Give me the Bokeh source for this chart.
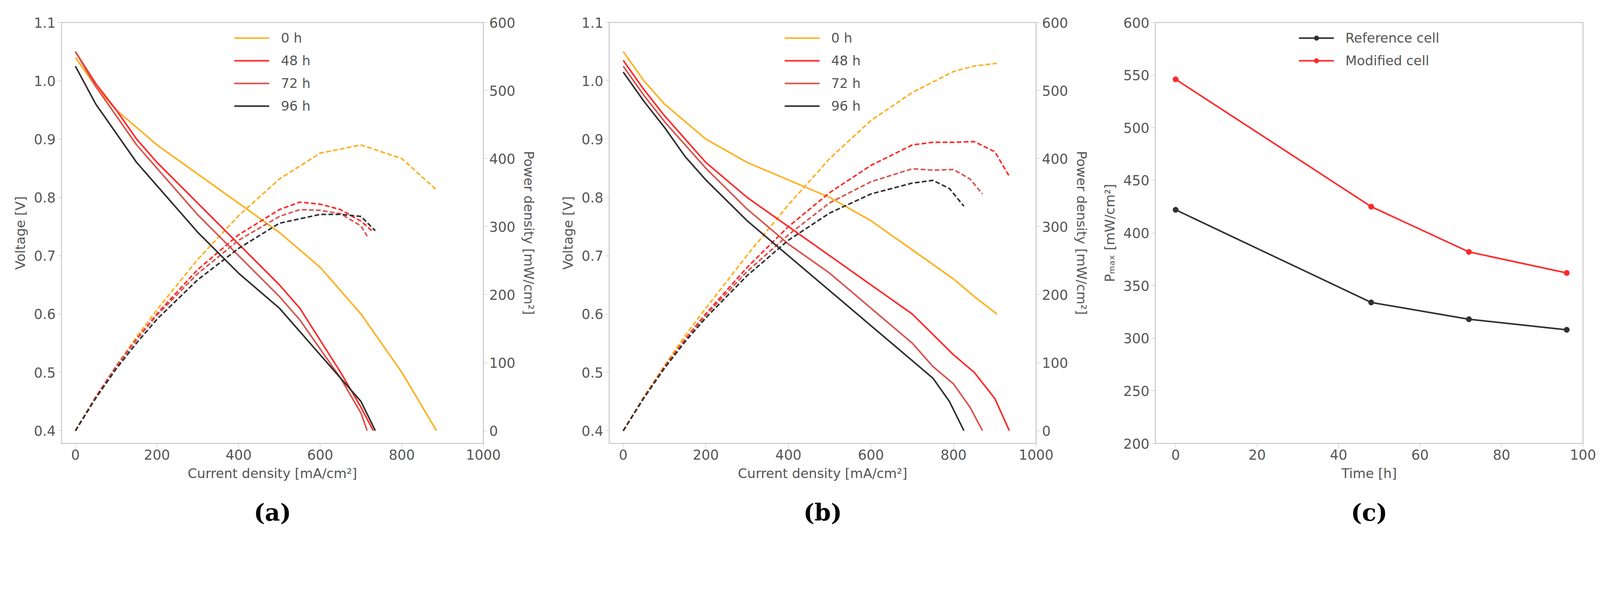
from bokeh.plotting import figure
from bokeh.models import Range1d, LinearAxis, Legend, LegendItem, Title, NumeralTickFormatter
from bokeh.layouts import row
from bokeh.embed import file_html
from bokeh.resources import INLINE

labels = ["0 h", "48 h", "72 h", "96 h"]
colors = ["#FFB020", "#FF2A2A", "#D9534F", "#303030"]

# panel (a): current density [mA/cm2], voltage [V], power density [mW/cm2]
a_I = [[0, 50, 100, 150, 200, 300, 400, 500, 600, 700, 800, 885],
       [0, 50, 100, 150, 200, 300, 400, 500, 550, 600, 650, 700, 730],
       [0, 50, 100, 150, 200, 300, 400, 500, 550, 600, 650, 700, 715],
       [0, 50, 100, 150, 200, 300, 400, 500, 600, 650, 700, 735]]
a_V = [[1.04, 0.99, 0.95, 0.92, 0.89, 0.84, 0.79, 0.74, 0.68, 0.60, 0.50, 0.40],
       [1.05, 0.995, 0.95, 0.90, 0.86, 0.79, 0.72, 0.65, 0.61, 0.555, 0.50, 0.44, 0.40],
       [1.05, 0.99, 0.94, 0.89, 0.85, 0.77, 0.70, 0.63, 0.59, 0.54, 0.49, 0.43, 0.40],
       [1.025, 0.96, 0.91, 0.86, 0.82, 0.74, 0.67, 0.61, 0.53, 0.49, 0.45, 0.40]]
a_P = [[0, 50, 95, 138, 178, 252, 316, 370, 408, 420, 400, 354],
       [0, 50, 95, 135, 172, 237, 288, 325, 336, 333, 325, 308, 292],
       [0, 50, 94, 134, 170, 231, 280, 315, 325, 324, 319, 301, 286],
       [0, 48, 91, 129, 164, 222, 268, 305, 318, 318, 315, 294]]

# panel (b)
b_I = [[0, 50, 100, 150, 200, 300, 400, 500, 600, 700, 800, 850, 905],
       [0, 50, 100, 150, 200, 300, 400, 500, 600, 700, 750, 800, 850, 900, 935],
       [0, 50, 100, 150, 200, 300, 400, 500, 600, 700, 750, 800, 840, 870],
       [0, 50, 100, 150, 200, 300, 400, 500, 600, 700, 750, 790, 825]]
b_V = [[1.05, 1.0, 0.96, 0.93, 0.90, 0.86, 0.83, 0.80, 0.76, 0.71, 0.66, 0.63, 0.60],
       [1.035, 0.985, 0.94, 0.90, 0.86, 0.80, 0.75, 0.70, 0.65, 0.60, 0.565, 0.53, 0.50, 0.455, 0.40],
       [1.025, 0.975, 0.93, 0.89, 0.85, 0.78, 0.72, 0.67, 0.61, 0.55, 0.51, 0.48, 0.44, 0.40],
       [1.015, 0.965, 0.92, 0.87, 0.83, 0.76, 0.70, 0.64, 0.58, 0.52, 0.49, 0.45, 0.40]]
b_P = [[0, 50, 96, 140, 180, 258, 332, 400, 456, 497, 528, 536, 540],
       [0, 49, 94, 135, 172, 240, 300, 350, 390, 420, 424, 424, 425, 410, 374],
       [0, 49, 93, 134, 170, 234, 288, 335, 366, 385, 383, 384, 370, 348],
       [0, 48, 92, 131, 166, 228, 280, 320, 348, 364, 368, 356, 330]]

# panel (c)
c_time = [0, 48, 72, 96]
c_ref = [422, 334, 318, 308]
c_mod = [546, 425, 382, 362]

TXT = "#555555"
GRID = "#BBBBBB"
FONT = "DejaVu Sans"
H = 1519
TOP, FRAME_H = 57, 1077


def style_axis(ax):
    ax.axis_line_color = GRID
    ax.major_tick_line_color = GRID
    ax.major_tick_out = 10
    ax.major_tick_in = 0
    ax.minor_tick_line_color = None
    ax.major_label_text_font = FONT
    ax.major_label_text_font_size = "35px"
    ax.major_label_text_color = TXT
    ax.axis_label_text_font = FONT
    ax.axis_label_text_font_size = "34px"
    ax.axis_label_text_color = TXT
    ax.axis_label_text_font_style = "normal"
    ax.axis_label_standoff = 12


def make_fig(width, left, right, xr, yr, cap):
    p = figure(width=width, height=H, x_range=xr, y_range=yr,
               output_backend="svg", toolbar_location=None,
               min_border_left=left, min_border_right=right,
               min_border_top=TOP, min_border_bottom=H - TOP - FRAME_H)
    p.grid.visible = False
    p.outline_line_color = GRID
    p.outline_line_width = 2
    p.add_layout(Title(text=cap, align="center", text_font="DejaVu Serif",
                       text_font_size="60px", text_color="black",
                       text_font_style="bold", standoff=80), "below")
    return p


def iv_panel(width, left, right, I, V, P, cap):
    p = make_fig(width, left, right, Range1d(-34, 1000), Range1d(0.378, 1.1), cap)
    p.extra_y_ranges = {"pow": Range1d(-18.6, 600)}
    p.xaxis.axis_label = "Current density [mA/cm²]"
    p.yaxis.axis_label = "Voltage [V]"
    p.xaxis.ticker = [0, 200, 400, 600, 800, 1000]
    p.yaxis.ticker = [0.4, 0.5, 0.6, 0.7, 0.8, 0.9, 1.0, 1.1]
    p.yaxis.formatter = NumeralTickFormatter(format="0.0")
    rax = LinearAxis(y_range_name="pow", axis_label="Power density [mW/cm²]",
                     ticker=[0, 100, 200, 300, 400, 500, 600])
    p.add_layout(rax, "right")
    for ax in [p.xaxis[0], p.yaxis[0], rax]:
        style_axis(ax)
    items = []
    for i in range(4):
        r = p.line(I[i], V[i], line_color=colors[i], line_width=4)
        p.line(I[i], P[i], y_range_name="pow", line_color=colors[i],
               line_width=4, line_dash="12 6")
        items.append(LegendItem(label=labels[i], renderers=[r]))
    leg = Legend(items=items, location="top_center", border_line_alpha=0,
                 background_fill_alpha=0, label_text_font=FONT,
                 label_text_font_size="34px", label_text_color=TXT,
                 glyph_width=90, glyph_height=30, spacing=18, label_standoff=30)
    p.add_layout(leg)
    return p


pa = iv_panel(1377, 157, 131, a_I, a_V, a_P, "(a)")
pb = iv_panel(1415, 182, 140, b_I, b_V, b_P, "(b)")

pc = make_fig(1308, 165, 48, Range1d(-5, 100), Range1d(200, 600), "(c)")
pc.xaxis.axis_label = "Time [h]"
pc.yaxis.axis_label = "Pₘₐₓ [mW/cm²]"
pc.xaxis.ticker = [0, 20, 40, 60, 80, 100]
pc.yaxis.ticker = [200, 250, 300, 350, 400, 450, 500, 550, 600]
style_axis(pc.xaxis[0])
style_axis(pc.yaxis[0])
r1 = pc.line(c_time, c_ref, line_color="#303030", line_width=4)
s1 = pc.scatter(c_time, c_ref, color="#303030", size=14)
r2 = pc.line(c_time, c_mod, line_color="#FF2A2A", line_width=4)
s2 = pc.scatter(c_time, c_mod, color="#FF2A2A", size=14)
legc = Legend(items=[LegendItem(label="Reference cell", renderers=[r1, s1]),
                     LegendItem(label="Modified cell", renderers=[r2, s2])],
              location="top_center", border_line_alpha=0, background_fill_alpha=0,
              label_text_font=FONT, label_text_font_size="34px", label_text_color=TXT,
              glyph_width=90, glyph_height=30, spacing=18, label_standoff=30)
pc.add_layout(legc)

layout = row(pa, pb, pc, spacing=0)
open("out.html", "w").write(file_html(layout, INLINE))
